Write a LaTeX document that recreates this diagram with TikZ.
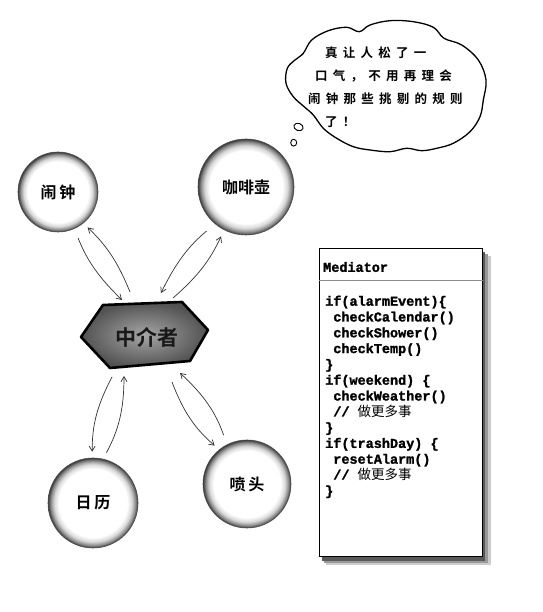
\documentclass[tikz,border=0pt]{standalone}
\usepackage{fontspec}
\setmonofont{Liberation Mono}
\newfontfamily\cjk{Noto Sans CJK SC}[BoldFont={Noto Sans CJK SC Bold}]
\newfontfamily\codefont{Liberation Mono}[UprightFont={* Bold}, FakeBold=1.6]
\usetikzlibrary{arrows.meta,calc}
\pgfdeclareradialshading{orbshade}{\pgfpointorigin}{color(0bp)=(white); color(19bp)=(white); color(21.5bp)=(black!15); color(23.5bp)=(black!45); color(25bp)=(black!78); color(50bp)=(black!78)}
\begin{document}
\begin{tikzpicture}[x=1pt,y=1pt,
  orb/.style={circle, shade, shading=orbshade, draw=black!70, line width=0.6pt,
    font=\cjk\bfseries\fontsize{16}{18}\selectfont, text=black},
  conn/.style={draw=black!80, line width=0.7pt, -{Straight Barb[length=5pt,width=6pt]}},
  cloudtxt/.style={anchor=west, inner sep=0pt, font=\cjk\bfseries\fontsize{12.5}{14}\selectfont\addfontfeature{LetterSpace=42}},
  codetxt/.style={anchor=north west, align=left, inner sep=0pt, font=\codefont\fontsize{13.5}{15.8}\selectfont},
  ]
\useasboundingbox (0,0) rectangle (542,612);
\fill[white] (0,0) rectangle (542,612);

% colleague circles
\node[orb, minimum size=80pt] (clock) at (58,420) {闹\,钟};
\node[orb, minimum size=96pt] (coffee) at (246,425) {咖啡壶};
\node[orb, minimum size=90pt] (cal) at (93,109) {日\,历};
\node[orb, minimum size=88pt] (shower) at (247,128) {喷\,头};

% mediator hexagon
\draw[line width=2.6pt, line join=round, shade, inner color=black!35, outer color=black!68]
  (81,275) -- (103,307) -- (182,310) -- (208,282) -- (190,251) -- (110,244) -- cycle;
\node[font=\cjk\bfseries\fontsize{21}{24}\selectfont, text=black!90] (med) at (147,275) {中介者};

% connectors
\draw[conn, shorten <=10pt] (clock.-66) to[bend right=12] ($(med)+(-25,37)$);
\draw[conn, shorten >=6pt] ($(med)+(-17,45)$) to[bend right=12] (clock.-51);
\draw[conn, shorten <=11pt] (coffee.-130) to[bend right=12] ($(med)+(14,44)$);
\draw[conn, shorten >=7pt] ($(med)+(26,39)$) to[bend right=12] (coffee.-117);
\draw[conn, shorten >=6pt] ($(med)+(-35,-40)$) to[bend right=14] (cal.91);
\draw[conn, shorten <=7pt] (cal.77) to[bend right=14] ($(med)+(-23,-39)$);
\draw[conn, shorten >=6pt] ($(med)+(25,-45)$) to[bend right=14] (shower.129);
\draw[conn, shorten <=10pt] (shower.117) to[bend right=14] ($(med)+(33,-36)$);

% Mediator class box with soft shadow
\fill[black!20] (326,47) rectangle (491,356);
\fill[black!40] (324,49) rectangle (488,358);
\fill[black!65] (322,51) rectangle (485,360);
\node[draw, fill=white, line width=0.8pt, anchor=south west, minimum width=163pt, minimum height=308pt, inner sep=0pt] (box) at (319,55) {};
\draw[black!45, line width=0.7pt] (box.west |- 0,332) -- (box.east |- 0,332);
\node[anchor=west, inner sep=0pt, font=\codefont\fontsize{13.5}{15.8}\selectfont] (hdr) at (323,345) {Mediator};
\node[codetxt] (code) at (325,316.5) {if(alarmEvent)\{\\
~checkCalendar()\\
~checkShower()\\
~checkTemp()\\
\}\\
if(weekend) \{\\
~checkWeather()\\
~// {\cjk 做更多事}\\
\}\\
if(trashDay) \{\\
~resetAlarm()\\
~// {\cjk 做更多事}\\
\}};

% thought cloud
\draw[line width=1.3pt, fill=white] plot[smooth cycle, tension=0.6] coordinates {
 (303.3,558.7) (311.7,572) (328.3,581.3) (346.7,584.7) (359.3,580.3) (370,587)
 (390,591.3) (413.3,590.3) (433.3,584.7) (444,573.7) (461.7,567) (478.3,552)
 (486,532) (483.3,512) (480,495.3) (470,480.3) (453.3,468.7) (436.7,463.7)
 (421.7,461.3) (406.7,463.7) (390,460.3) (370,462) (353.3,465.3) (336.7,473.7)
 (323.3,483.7) (313.3,497) (303.3,506) (293.3,515.3) (286,528.7) (287.3,543.7) (295,552)};
\draw[line width=0.9pt, rotate around={-20:(298.5,485)}] (298.5,485) ellipse (4.8 and 3.6);
\draw[line width=0.9pt] (293.7,469.3) ellipse (3 and 3.4);
\node[cloudtxt] (c1) at (325,559) {真让人松了一};
\node[cloudtxt] (c2) at (315,536) {口气，不用再理会};
\node[cloudtxt] (c3) at (308,513) {闹钟那些挑剔的规则};
\node[cloudtxt] (c4) at (325,490) {了！};
\end{tikzpicture}
\end{document}
